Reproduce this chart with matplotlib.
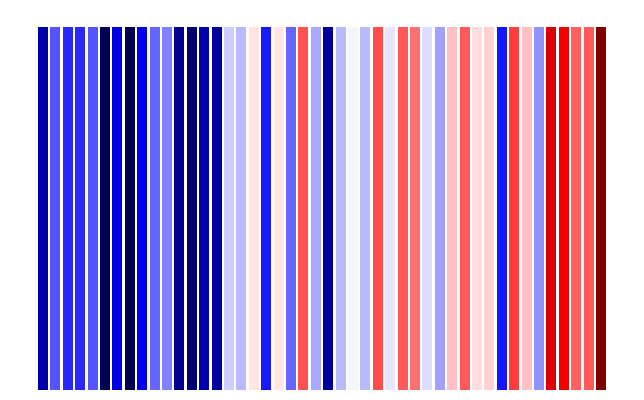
import matplotlib
matplotlib.use("Agg")
import matplotlib.pyplot as plt
import numpy as np

# normalised anomaly per year (colour position in the seismic colormap)
years = list(range(1, 47))
values = [0.131, 0.333, 0.291, 0.291, 0.333, 0.012, 0.206, 0.0, 0.229, 0.35,
          0.375, 0.095, 0.05, 0.139, 0.117, 0.45, 0.433, 0.525, 0.275, 0.527,
          0.35, 0.671, 0.417, 0.107, 0.433, 0.49, 0.433, 0.675, 0.475, 0.662,
          0.64, 0.467, 0.407, 0.562, 0.662, 0.533, 0.546, 0.27, 0.6875, 0.562,
          0.391, 0.817, 0.77, 0.656, 0.664, 1.0]

fig = plt.figure(figsize=(6.44, 4.0), dpi=100)
W, H = 644, 400
ax = fig.add_axes([38 / W, 1 - 390 / H, (606 - 38) / W, (390 - 27) / H])
cmap = plt.get_cmap("seismic")
norm = matplotlib.colors.Normalize(vmin=min(values), vmax=max(values))
x = np.arange(len(years))
ax.bar(x, [1] * len(years), width=0.8, color=cmap(norm(np.array(values))),
       edgecolor="none")
ax.set_xlim(-0.4, len(years) - 1 + 0.4)
ax.set_ylim(0, 1)
ax.axis("off")
fig.savefig("out.png", dpi=100, facecolor="white")
